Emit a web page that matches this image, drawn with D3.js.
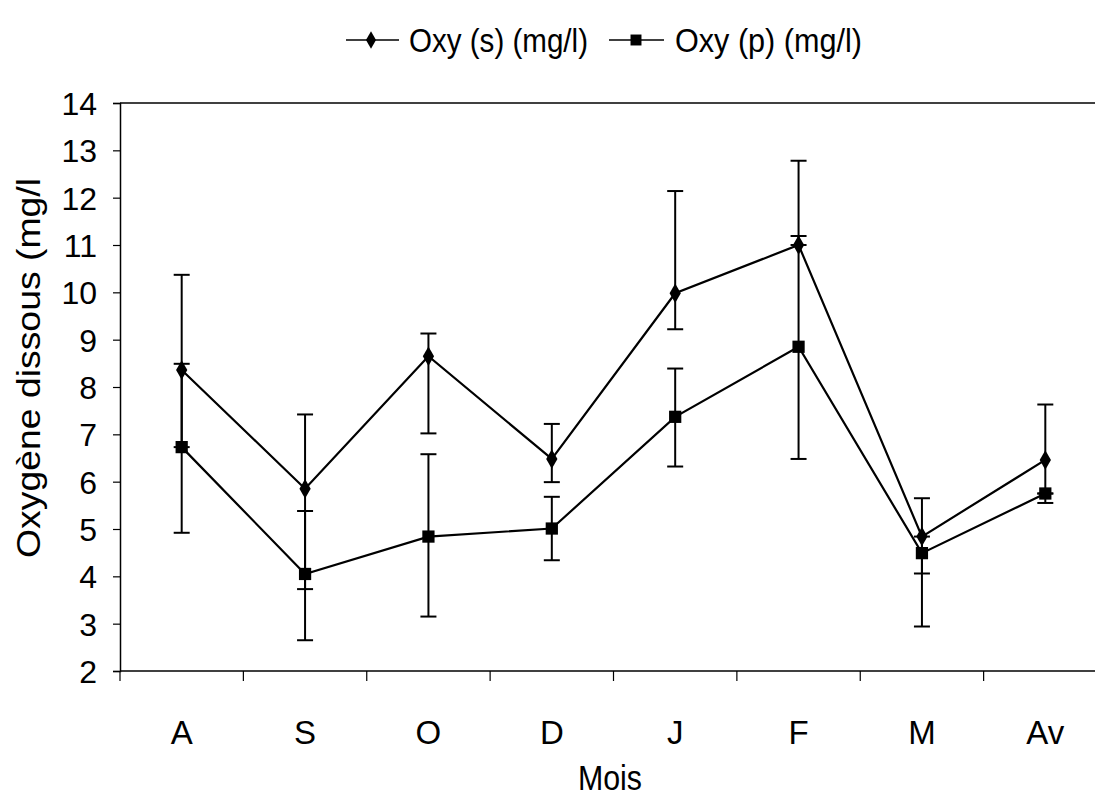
<!DOCTYPE html>
<meta charset="utf-8">
<head>
    <script type="text/javascript" src="https://d3js.org/d3.v7.min.js"></script>
    <style>
        body { margin: 0; background: #fff; }
        text { font-family: "Liberation Sans", Arial, sans-serif; fill: #000; }
    </style>
    <title>Oxygene dissous</title>
</head>
<body>
    <script>
        // data
        var months = ["A", "S", "O", "D", "J", "F", "M", "Av"];
        var yTicks = [2, 3, 4, 5, 6, 7, 8, 9, 10, 11, 12, 13, 14];

        var oxyS = [8.36, 5.85, 8.65, 6.48, 9.98, 11.0, 4.84, 6.46];
        var oxySHigh = [10.37, 7.42, 9.13, 7.22, 12.14, 12.78, 5.65, 7.63];
        var oxySLow = [6.73, 3.73, 7.02, 5.99, 9.22, 11.0, 2.94, 5.75];

        var oxyP = [6.73, 4.05, 4.84, 5.01, 7.37, 8.85, 4.49, 5.75];
        var oxyPHigh = [8.49, 5.38, 6.58, 5.68, 8.39, 11.19, 4.84, 5.75];
        var oxyPLow = [4.92, 2.65, 3.15, 4.34, 6.32, 6.48, 4.06, 5.55];

        var seriesNames = ["Oxy (s) (mg/l)", "Oxy (p) (mg/l)"];

        var width = 1095, height = 800;

        var svg = d3.select("body").append("svg")
            .attr("width", width)
            .attr("height", height);

        // scales
        var x = d3.scaleBand()
            .domain(months)
            .range([120, 1107]);
        var y = d3.scaleLinear()
            .domain([2, 14])
            .range([671, 103]);

        // top border of plot area
        svg.append("line")
            .attr("x1", 120).attr("x2", width)
            .attr("y1", y(14)).attr("y2", y(14))
            .attr("stroke", "#000").attr("stroke-width", 1.5);

        // y axis
        var yAxis = svg.append("g")
            .attr("transform", "translate(120,0)")
            .call(d3.axisLeft(y).tickValues(yTicks).tickSize(7).tickPadding(16));
        yAxis.select(".domain").attr("stroke-width", 1.5);
        yAxis.selectAll(".tick line").attr("stroke-width", 1.2);
        yAxis.selectAll("text")
            .style("font-size", "32px")
            .attr("dy", "0.36em");

        // x axis: ticks on band edges, labels at band centres
        var xg = svg.append("g");
        xg.append("line")
            .attr("x1", 120).attr("x2", width)
            .attr("y1", y(2)).attr("y2", y(2))
            .attr("stroke", "#000").attr("stroke-width", 1.5);
        xg.selectAll(".xtick")
            .data(months)
            .enter()
            .append("line")
            .attr("class", "xtick")
            .attr("x1", d => x(d)).attr("x2", d => x(d))
            .attr("y1", y(2)).attr("y2", y(2) + 10)
            .attr("stroke", "#000").attr("stroke-width", 1.2);
        xg.selectAll(".xlabel")
            .data(months)
            .enter()
            .append("text")
            .attr("class", "xlabel")
            .attr("x", d => x(d) + x.bandwidth() / 2)
            .attr("y", 744)
            .attr("text-anchor", "middle")
            .style("font-size", "33px")
            .text(d => d);

        // axis titles
        svg.append("text")
            .attr("x", 610).attr("y", 790)
            .attr("text-anchor", "middle")
            .attr("textLength", 64)
            .attr("lengthAdjust", "spacingAndGlyphs")
            .style("font-size", "35px")
            .text("Mois");
        svg.append("text")
            .attr("transform", "translate(40,368) rotate(-90)")
            .attr("text-anchor", "middle")
            .attr("textLength", 380)
            .attr("lengthAdjust", "spacingAndGlyphs")
            .style("font-size", "34px")
            .text("Oxygène dissous (mg/l");

        // build series table
        var series = [
            {name: seriesNames[0], shape: d3.symbolDiamond, size: 110,
             values: months.map((m, i) => ({m: m, v: oxyS[i], lo: oxySLow[i], hi: oxySHigh[i]}))},
            {name: seriesNames[1], shape: d3.symbolSquare, size: 150,
             values: months.map((m, i) => ({m: m, v: oxyP[i], lo: oxyPLow[i], hi: oxyPHigh[i]}))}
        ];
        var cx = d => x(d.m) + x.bandwidth() / 2;

        // error bars
        var capW = 8;
        series.forEach(function(s) {
            var eg = svg.append("g");
            eg.selectAll(".vbar")
                .data(s.values)
                .enter()
                .append("line")
                .attr("x1", cx).attr("x2", cx)
                .attr("y1", d => y(d.lo)).attr("y2", d => y(d.hi))
                .attr("stroke", "#000").attr("stroke-width", 2);
            ["lo", "hi"].forEach(function(k) {
                eg.selectAll(".cap" + k)
                    .data(s.values)
                    .enter()
                    .append("line")
                    .attr("x1", d => cx(d) - capW).attr("x2", d => cx(d) + capW)
                    .attr("y1", d => y(d[k])).attr("y2", d => y(d[k]))
                    .attr("stroke", "#000").attr("stroke-width", 2);
            });
        });

        // lines and markers
        var line = d3.line()
            .x(cx)
            .y(d => y(d.v));
        series.forEach(function(s) {
            svg.append("path")
                .datum(s.values)
                .attr("d", line)
                .attr("fill", "none")
                .attr("stroke", "#000")
                .attr("stroke-width", 2.2);
            svg.append("g").selectAll("path")
                .data(s.values)
                .enter()
                .append("path")
                .attr("transform", d => "translate(" + cx(d) + "," + y(d.v) + ")")
                .attr("d", d3.symbol().type(s.shape).size(s.size))
                .attr("fill", "#000");
        });

        // legend
        var legendItems = [
            {x1: 346, x2: 399, mx: 371, tx: 409, tw: 179, s: series[0]},
            {x1: 609, x2: 664, mx: 636, tx: 675, tw: 187, s: series[1]}
        ];
        var lg = svg.append("g").attr("id", "legend");
        legendItems.forEach(function(it) {
            lg.append("line")
                .attr("x1", it.x1).attr("x2", it.x2)
                .attr("y1", 40).attr("y2", 40)
                .attr("stroke", "#000").attr("stroke-width", 1.5);
            lg.append("path")
                .attr("transform", "translate(" + it.mx + ",40)")
                .attr("d", d3.symbol().type(it.s.shape).size(it.s.size * 0.8))
                .attr("fill", "#000");
            lg.append("text")
                .attr("x", it.tx).attr("y", 52)
                .attr("textLength", it.tw)
                .attr("lengthAdjust", "spacingAndGlyphs")
                .style("font-size", "34px")
                .text(it.s.name);
        });
    </script>
</body>
</html>
